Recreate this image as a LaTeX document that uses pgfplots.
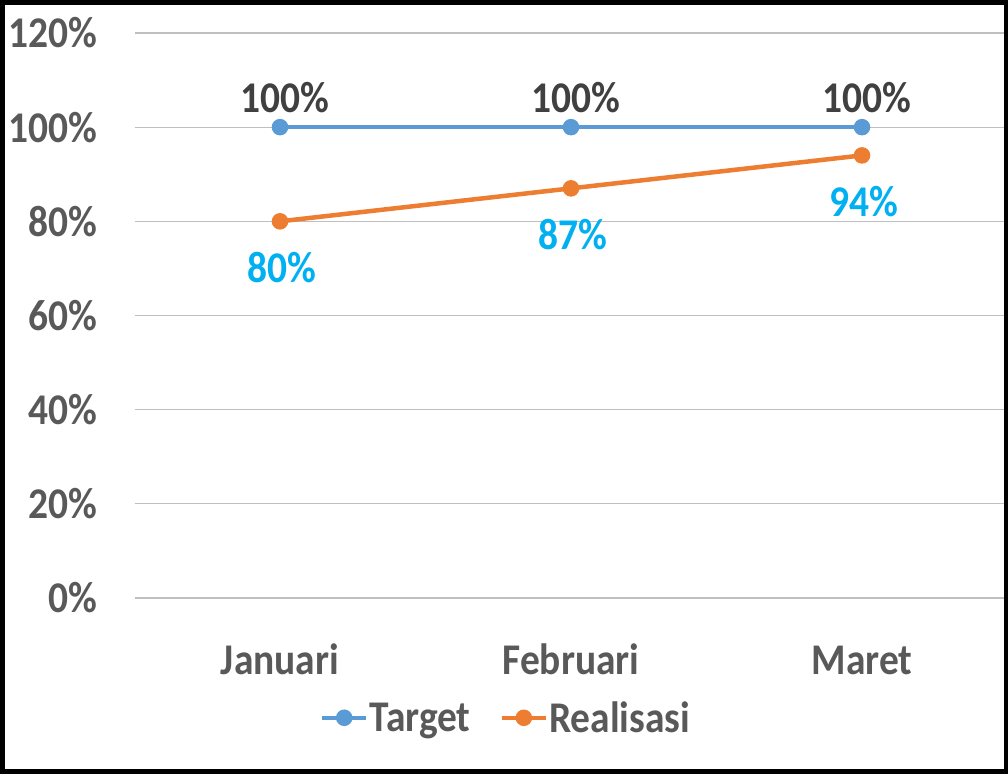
\documentclass[border=0pt]{standalone}
\usepackage{pgfplots}
\pgfplotsset{compat=1.18}
\usepackage{fontspec}
\setmainfont{Carlito}[FakeStretch=0.9]
\definecolor{tgt}{HTML}{5B9BD5}
\definecolor{real}{HTML}{ED7D31}
\definecolor{lblcyan}{HTML}{00B0F0}
\definecolor{lbldark}{HTML}{404040}
\definecolor{axgray}{HTML}{595959}
\definecolor{grid}{HTML}{D9D9D9}
\begin{document}
\begin{tikzpicture}[x=1bp,y=1bp]
\path[use as bounding box] (0,0) rectangle (1008,775);
\begin{axis}[
  at={(134.5bp,177bp)}, anchor=south west,
  scale only axis, width=873bp, height=565bp,
  xmin=-0.5, xmax=2.5, ymin=0, ymax=120,
  axis line style={draw=none},
  clip=false,
  /pgf/number format/assume math mode=true,
  xtick={0,1,2}, xticklabels={Januari,Februari,Maret},
  ytick={0,20,40,60,80,100,120},
  yticklabels={0\%,20\%,40\%,60\%,80\%,100\%,120\%},
  xmajorgrids=false, ymajorgrids=true, grid style={grid, line width=1.2bp},
  major tick length=0pt,
  tick label style={font=\fontsize{44}{46}\selectfont\bfseries, text=axgray},
  yticklabel style={anchor=east, xshift=-34bp},
  xticklabel style={anchor=base, yshift=-77bp},
  legend style={at={(0.425,-0.212)}, anchor=center, draw=none, fill=none,
    legend columns=2, font=\fontsize{44}{46}\selectfont\bfseries, text=axgray,
    /tikz/every even column/.append style={column sep=28bp},
    inner sep=0pt, nodes={inner sep=1bp}},
  legend image code/.code={\draw[#1,mark repeat=2,mark phase=2] plot coordinates {(0bp,0bp)(22bp,0bp)(44bp,0bp)};},
]
\addplot[tgt, line width=4.5bp, mark=*, mark size=6bp, mark options={solid},
  nodes near coords={\pgfmathprintnumber{\pgfplotspointmeta}\%},
  every node near coord/.append style={anchor=center, yshift=30bp, xshift=5bp,
    text=lbldark, font=\fontsize{44}{46}\selectfont\bfseries}]
  coordinates {(0,100) (1,100) (2,100)};
\addlegendentry{Target}
\addplot[real, line width=4.5bp, mark=*, mark size=6bp, mark options={solid},
  nodes near coords={\pgfmathprintnumber{\pgfplotspointmeta}\%},
  every node near coord/.append style={anchor=center, yshift=-46bp, xshift=2bp,
    text=lblcyan, font=\fontsize{44}{46}\selectfont\bfseries}]
  coordinates {(0,80) (1,87) (2,94)};
\addlegendentry{Realisasi}
\end{axis}
\draw[black, line width=5bp] (2.5,3) rectangle (1006.5,772.5);
\end{tikzpicture}
\end{document}
